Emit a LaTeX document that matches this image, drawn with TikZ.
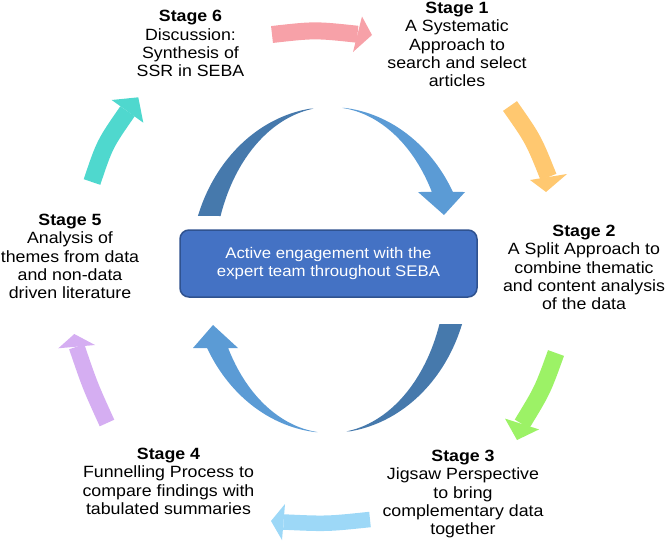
\documentclass[tikz,border=0pt]{standalone}
\usepackage{fontspec}
\setmainfont[FakeStretch=1.09]{Liberation Sans}
\definecolor{cpink}{HTML}{F7A1A8}
\definecolor{corange}{HTML}{FFC870}
\definecolor{cgreen}{HTML}{9CF266}
\definecolor{clblue}{HTML}{9DD8F7}
\definecolor{cpurple}{HTML}{D5AEF2}
\definecolor{cteal}{HTML}{4FD8CE}
\definecolor{cdark}{HTML}{4679AC}
\definecolor{clight}{HTML}{5B9BD5}
\definecolor{boxfill}{HTML}{4472C4}
\definecolor{boxline}{HTML}{2F528F}
\begin{document}
\begin{tikzpicture}[x=1pt,y=-1pt,
  stagetext/.style={anchor=north,align=center,inner sep=0pt,font=\fontsize{16.3}{18.4}\selectfont,text=black},
  arrowbody/.style={line width=#1},
]
\useasboundingbox (0,0) rectangle (666,549);

% ---- inner ring ----
\fill[cdark] plot[domain=98.2:160.65,samples=40] ({330+140*cos(\x)},{270-163*sin(\x)})
  -- plot[domain=160.65:98.2,samples=40] ({330+116*cos(\x)},{270-163*sin(\x)}) -- cycle;
\fill[clight] plot[domain=83.85:28.6,samples=40] ({330+140*cos(\x)},{270-163*sin(\x)})
  -- (465,192) -- (444,215) -- (418,192)
  -- plot[domain=28.6:83.85,samples=40] ({330+116*cos(\x)},{270-163*sin(\x)}) -- cycle;
\fill[cdark] plot[domain=278.2:340.65,samples=40] ({330+140*cos(\x)},{270-163*sin(\x)})
  -- plot[domain=340.65:278.2,samples=40] ({330+116*cos(\x)},{270-163*sin(\x)}) -- cycle;
\fill[clight] plot[domain=263.85:208.6,samples=40] ({330+140*cos(\x)},{270-163*sin(\x)})
  -- (193,348) -- (213,325) -- (238,348)
  -- plot[domain=208.6:263.85,samples=40] ({330+116*cos(\x)},{270-163*sin(\x)}) -- cycle;

% ---- centre box ----
\node[draw=boxline, fill=boxfill, line width=1.5pt, rounded corners=9pt,
  minimum width=297pt, minimum height=67pt, inner sep=0pt, align=center,
  text=white, font=\fontsize{15.4}{17.4}\selectfont] (center) at (328.5,263.5)
  {Active engagement with the\\expert team throughout SEBA};

% ---- stage texts ----
\node[stagetext] (s6) at (190.5,8.5) {\rule{0pt}{13pt}\textbf{Stage 6}\\Discussion:\\Synthesis of\\SSR in SEBA};
\node[stagetext] (s1) at (457,0) {\rule{0pt}{13pt}\textbf{Stage 1}\\A Systematic\\Approach to\\search and select\\articles};
\node[stagetext] (s2) at (584,223) {\rule{0pt}{13pt}\textbf{Stage 2}\\A Split Approach to\\combine thematic\\and content analysis\\of the data};
\node[stagetext] (s3) at (463,448) {\rule{0pt}{13pt}\textbf{Stage 3}\\Jigsaw Perspective\\to bring\\complementary data\\together};
\node[stagetext] (s4) at (168.5,446) {\rule{0pt}{13pt}\textbf{Stage 4}\\Funnelling Process to\\compare findings with\\tabulated summaries};
\node[stagetext] (s5) at (70,212) {\rule{0pt}{13pt}\textbf{Stage 5}\\Analysis of\\themes from data\\and non-data\\driven literature};

% ---- outer arrows ----
% pink 6 -> 1
\coordinate (a1t) at (272,34.5); \coordinate (a1c) at (314.75,29.7); \coordinate (a1b) at (357.5,34.25);
\draw[cpink,arrowbody=17pt] (a1t) .. controls (a1c) .. (a1b);
\fill[cpink] (362,16.5) -- (372,35) -- (353,52) -- cycle;
% orange 1 -> 2
\coordinate (a2t) at (510,106); \coordinate (a2c) at (533.35,139.3); \coordinate (a2b) at (548.5,177);
\draw[corange,arrowbody=17pt] (a2t) .. controls (a2c) .. (a2b);
\fill[corange] (530,180) -- (546,192) -- (567,174) -- cycle;
% green 2 -> 3
\coordinate (a3t) at (556,353); \coordinate (a3c) at (542.6,390.2); \coordinate (a3b) at (522,424);
\draw[cgreen,arrowbody=17pt] (a3t) .. controls (a3c) .. (a3b);
\fill[cgreen] (539,429.4) -- (517,440) -- (505,418.6) -- cycle;
% light blue 3 -> 4
\coordinate (a4t) at (370,519.5); \coordinate (a4c) at (326.75,524); \coordinate (a4b) at (283.5,522);
\draw[clblue,arrowbody=15.5pt] (a4t) .. controls (a4c) .. (a4b);
\fill[clblue] (285,504) -- (271,521) -- (282,540) -- cycle;
% purple 4 -> 5
\coordinate (a5t) at (107,423); \coordinate (a5c) at (90,385.6); \coordinate (a5b) at (76.7,346.7);
\draw[cpurple,arrowbody=16pt] (a5t) .. controls (a5c) .. (a5b);
\fill[cpurple] (58.3,348.3) -- (74.3,334) -- (95,345) -- cycle;
% teal 5 -> 6
\coordinate (a6t) at (92,182); \coordinate (a6c) at (104.75,144.1); \coordinate (a6b) at (127.5,111.3);
\draw[cteal,arrowbody=17.5pt] (a6t) .. controls (a6c) .. (a6b);
\fill[cteal] (111.7,100) -- (138.3,97.3) -- (143.3,122.7) -- cycle;
\end{tikzpicture}
\end{document}
